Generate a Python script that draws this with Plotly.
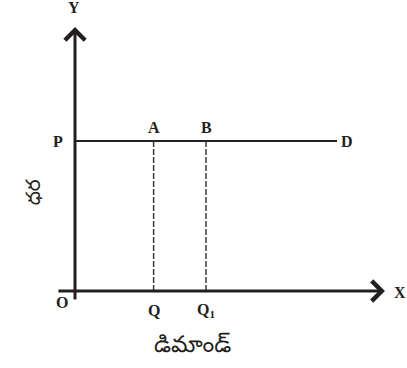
import plotly.graph_objects as go

# chart units: origin O at (0, 0)
price_level = 6.0          # P
qty_a = 3.0                # Q
qty_b = 5.0                # Q1
qty_end = 10.0             # D
x_axis_end = 11.83
y_axis_end = 10.56
axis_start_x = -0.69
axis_start_y = -0.4

point_labels = ["P", "A", "B", "D"]
point_x = [0.0, qty_a, qty_b, qty_end]
qty_labels = ["Q", "Q<sub>1</sub>"]
qty_x = [qty_a, qty_b]

x_title = "డిమాండ్"
y_title = "ధర"

ink = "#231f20"
lbl_font = dict(family="Liberation Serif", size=16, color=ink)

fig = go.Figure()

# horizontal demand line P -> D
fig.add_trace(go.Scatter(x=[0, qty_end], y=[price_level, price_level], mode="lines",
                         line=dict(color=ink, width=2), hoverinfo="skip"))

# dashed drops A -> Q, B -> Q1
for q in qty_x:
    fig.add_trace(go.Scatter(x=[q, q], y=[0, price_level], mode="lines",
                             line=dict(color="#3a3a3a", width=1.5, dash="6px,2px"), hoverinfo="skip"))

# axes as arrows
fig.add_annotation(x=x_axis_end, y=0, ax=axis_start_x, ay=0, xref="x", yref="y", axref="x", ayref="y",
                   showarrow=True, arrowhead=4, arrowsize=1.3, arrowwidth=3, arrowcolor=ink, text="")
fig.add_annotation(x=0, y=y_axis_end, ax=0, ay=axis_start_y, xref="x", yref="y", axref="x", ayref="y",
                   showarrow=True, arrowhead=4, arrowsize=1.3, arrowwidth=3, arrowcolor=ink, text="")

# point labels
for name, px in zip(point_labels, point_x):
    if name == "P":
        fig.add_annotation(x=px, y=price_level, text="<b>P</b>", showarrow=False, xshift=-17, font=lbl_font)
    elif name == "D":
        fig.add_annotation(x=px, y=price_level, text="<b>D</b>", showarrow=False, xshift=10, font=lbl_font)
    else:
        fig.add_annotation(x=px, y=price_level, text="<b>%s</b>" % name, showarrow=False, yshift=14, font=lbl_font)

for name, qx in zip(qty_labels, qty_x):
    fig.add_annotation(x=qx, y=0, text="<b>%s</b>" % name, showarrow=False, yshift=-19, font=lbl_font)

fig.add_annotation(x=0, y=0, text="<b>O</b>", showarrow=False, xshift=-13, yshift=-11, font=lbl_font)
fig.add_annotation(x=x_axis_end, y=0, text="<b>X</b>", showarrow=False, xshift=15, yshift=-1, font=lbl_font)
fig.add_annotation(x=0, y=y_axis_end, text="<b>Y</b>", showarrow=False, xshift=-1, yshift=20, font=lbl_font)

# axis titles in Telugu
fig.add_annotation(x=(qty_a + qty_b) / 2 + 0.5, y=0, text=x_title, showarrow=False, yshift=-56,
                   font=dict(family="Noto Sans Telugu, Noto Sans", size=23, color=ink))
fig.add_annotation(x=0, y=price_level / 2 + 0.95, text=y_title, showarrow=False, xshift=-39, textangle=-90,
                   font=dict(family="Noto Sans Telugu, Noto Sans", size=20, color=ink))

fig.update_xaxes(range=[-2.863, 12.672], visible=False, fixedrange=True)
fig.update_yaxes(range=[-3.08, 11.64], visible=False, fixedrange=True)
fig.update_layout(width=407, height=368, margin=dict(l=0, r=0, t=0, b=0),
                  plot_bgcolor="white", paper_bgcolor="white", showlegend=False)

# page body has a default 8px margin; drop it so the figure sits at the corner
fig.write_html("out.html", config={"displayModeBar": False},
               post_script="document.body.style.margin='0';")
